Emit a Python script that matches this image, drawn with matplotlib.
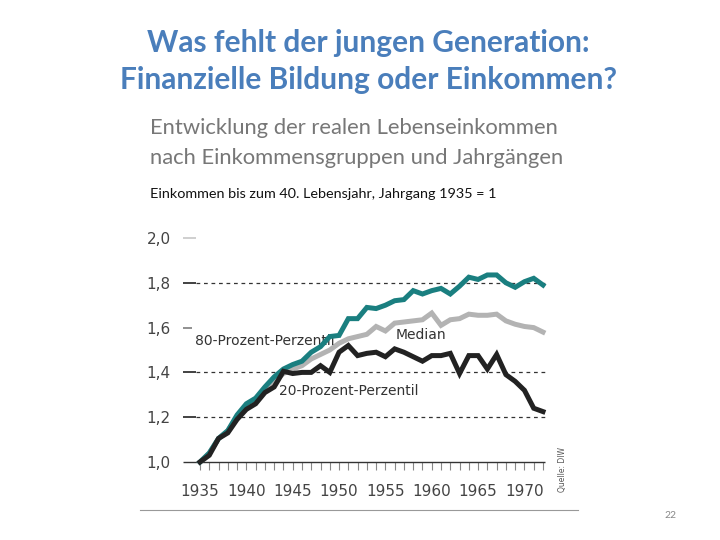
import numpy as np
import matplotlib.pyplot as plt

# Jahrgänge 1935..1972
years = np.arange(1935, 1973)

# 80-Prozent-Perzentil
p80 = [1.00, 1.04, 1.105, 1.14, 1.21, 1.26, 1.285, 1.335, 1.38, 1.415,
       1.435, 1.45, 1.49, 1.515, 1.56, 1.565, 1.64, 1.64, 1.69, 1.685,
       1.70, 1.72, 1.725, 1.765, 1.75, 1.765, 1.775, 1.75, 1.785, 1.825,
       1.815, 1.835, 1.835, 1.80, 1.78, 1.805, 1.82, 1.79]
# Median
median = [1.00, 1.04, 1.105, 1.14, 1.20, 1.25, 1.275, 1.325, 1.36, 1.395,
          1.415, 1.43, 1.46, 1.48, 1.50, 1.53, 1.55, 1.56, 1.57, 1.605,
          1.585, 1.62, 1.625, 1.63, 1.635, 1.665, 1.61, 1.635, 1.64, 1.66,
          1.655, 1.655, 1.66, 1.63, 1.615, 1.605, 1.60, 1.58]
# 20-Prozent-Perzentil
p20 = [1.00, 1.03, 1.105, 1.13, 1.19, 1.235, 1.26, 1.31, 1.335, 1.405,
       1.395, 1.40, 1.40, 1.43, 1.40, 1.49, 1.52, 1.475, 1.485, 1.49,
       1.47, 1.505, 1.49, 1.47, 1.45, 1.475, 1.475, 1.485, 1.395, 1.475,
       1.475, 1.415, 1.48, 1.39, 1.36, 1.32, 1.24, 1.225]

ytick_vals = [1.0, 1.2, 1.4, 1.6, 1.8, 2.0]
ytick_labels = ["1,0", "1,2", "1,4", "1,6", "1,8", "2,0"]
xlabel_years = [1935, 1940, 1945, 1950, 1955, 1960, 1965, 1970]

W, H = 720, 540
fig = plt.figure(figsize=(7.2, 5.4), dpi=100)

# axes: px x 183..560, y 238 (2.0) .. 462 (1.0)
ax = fig.add_axes([183 / W, 1 - 462 / H, (560 - 183) / W, (462 - 238) / H])
x0 = 1935 - 17 / 9.27
x1 = 1935 + 360 / 9.27
ax.set_xlim(x0, x1)
ax.set_ylim(1.0, 2.0)
for s in ax.spines.values():
    s.set_visible(False)
ax.patch.set_alpha(0)

narrow = ["Liberation Sans Narrow", "DejaVu Sans"]
tickfont = dict(family=narrow, size=11, color="#444444")

# y ticks: short marks + dashed grid for some
tick_end = x0 + 13 / 9.27
for v, lab in zip(ytick_vals, ytick_labels):
    if v == 1.0:
        continue
    col = "#cccccc" if v == 2.0 else ("#888888" if v == 1.6 else "#333333")
    end = x0 + 9 / 9.27 if v == 1.6 else tick_end
    ax.hlines(v, x0, end, color=col, lw=1.3, clip_on=False)
    if v in (1.2, 1.4, 1.8):
        ax.hlines(v, tick_end, 1935 + 348 / 9.27, color="#333333", lw=0.9,
                  linestyles=(0, (3, 3)), clip_on=False)
ax.set_yticks(ytick_vals)
ax.set_yticklabels(ytick_labels, fontdict=tickfont)
ax.tick_params(axis="y", length=0, pad=9)

# x axis baseline + yearly ticks
ax.hlines(1.0, x0, 1972.2, color="#333333", lw=1.0, clip_on=False)
ax.set_xticks(years, minor=True)
ax.set_xticks(xlabel_years)
ax.set_xticklabels([str(y) for y in xlabel_years], fontdict=tickfont)
ax.tick_params(axis="x", which="both", direction="out", length=6, width=0.8,
               color="#888888", pad=10)

lw = 3.6
ax.plot(years, median, color="#b3b3b3", lw=lw, solid_joinstyle="miter", clip_on=False, zorder=3)
ax.plot(years, p80, color="#1a7f80", lw=lw, solid_joinstyle="miter", clip_on=False, zorder=4)
ax.plot(years, p20, color="#222222", lw=lw, solid_joinstyle="miter", clip_on=False, zorder=5)

labfont = dict(family=narrow, size=10, color="#333333")
ax.text(1934.5, 1.54, "80-Prozent-Perzentil", va="center", ha="left", **labfont)
ax.text(1956.1, 1.567, "Median", va="center", ha="left", **labfont)
ax.text(1943.5, 1.317, "20-Prozent-Perzentil", va="center", ha="left", **labfont)

fig.text(563 / W, 1 - 470 / H, "Quelle: DIW", rotation=90, ha="center", va="center",
         fontsize=5.5, color="#555555", family=narrow)

# titles
lato = ["Lato", "DejaVu Sans"]
fig.text(368 / W, 1 - 43 / H, "Was fehlt der jungen Generation:", ha="center", va="center",
         fontsize=21.5, fontweight="bold", color="#4a7ebb", family=lato)
fig.text(368 / W, 1 - 80 / H, "Finanzielle Bildung oder Einkommen?", ha="center", va="center",
         fontsize=21.5, fontweight="bold", color="#4a7ebb", family=lato)
fig.text(150 / W, 1 - 128 / H, "Entwicklung der realen Lebenseinkommen", ha="left", va="center",
         fontsize=15.8, color="#777777", family=lato)
fig.text(150 / W, 1 - 158 / H, "nach Einkommensgruppen und Jahrgängen", ha="left", va="center",
         fontsize=15.8, color="#777777", family=lato)
fig.text(150 / W, 1 - 194 / H, "Einkommen bis zum 40. Lebensjahr, Jahrgang 1935 = 1", ha="left",
         va="center", fontsize=10.4, color="#111111", family=lato)

# bottom rule and page number
fig.add_artist(plt.Line2D([140 / W, 578 / W], [1 - 510 / H, 1 - 510 / H], color="#999999", lw=0.8))
fig.text(670 / W, 1 - 515 / H, "22", ha="center", va="center", fontsize=7.5, color="#888888",
         family=lato)

fig.savefig("out.png", dpi=100)
